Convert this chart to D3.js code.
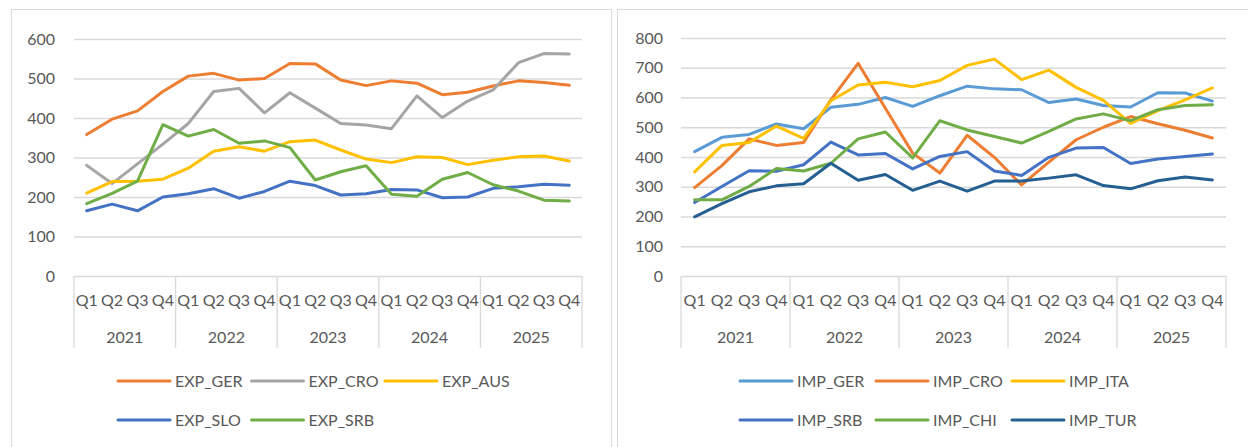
<!DOCTYPE html>
<html><head><meta charset="utf-8">
<script src="https://cdn.jsdelivr.net/npm/d3@7"></script>
<style>
body{margin:0;background:#fff;overflow:hidden}
text{font-family:Lato, "Open Sans", sans-serif;fill:#595959;}
</style>
</head><body>
<svg id="c" width="1248" height="447"></svg>
<script>
const years = ["2021","2022","2023","2024","2025"];
const quarters = ["Q1","Q2","Q3","Q4"];

const expNames = ["EXP_GER","EXP_CRO","EXP_AUS","EXP_SLO","EXP_SRB"];
const EXP_GER = [358,397,418,467,506,513,496,500,538,537,496,482,494,488,459,465,481,494,490,483];
const EXP_CRO = [280,234,284,334,386,467,475,413,464,425,386,382,373,456,401,443,471,540,563,562];
const EXP_AUS = [210,239,240,245,273,316,327,316,340,344,319,296,287,302,300,282,293,302,304,291];
const EXP_SLO = [165,182,165,200,208,221,197,214,240,229,205,208,219,218,198,200,222,226,232,230];
const EXP_SRB = [183,209,240,383,354,371,336,342,325,243,264,279,207,202,245,262,231,215,192,190];
const expColors = ["#ED7D31","#A5A5A5","#FFC000","#4472C4","#70AD47"];
const expTicks = [0,100,200,300,400,500,600];

const impNames = ["IMP_GER","IMP_CRO","IMP_ITA","IMP_SRB","IMP_CHI","IMP_TUR"];
const IMP_GER = [418,466,476,511,495,567,577,600,570,606,638,629,626,583,595,573,568,616,615,588];
const IMP_CRO = [297,371,461,439,449,592,715,564,413,346,473,399,306,383,458,500,536,512,490,464];
const IMP_ITA = [350,439,449,504,463,589,642,651,636,657,708,729,660,692,634,590,513,556,592,632];
const IMP_SRB = [247,301,354,352,374,450,407,412,360,402,418,353,338,399,430,432,378,393,402,410];
const IMP_CHI = [256,256,301,361,353,379,461,484,397,522,491,469,447,486,528,545,522,559,573,576];
const IMP_TUR = [199,243,283,303,310,379,322,341,288,319,285,319,319,329,340,304,293,320,333,323];
const impColors = ["#5B9BD5","#ED7D31","#FFC000","#4472C4","#70AD47","#255E91"];
const impTicks = [0,100,200,300,400,500,600,700,800];

const svg = d3.select("#c");
const keys = [];
years.forEach(y => quarters.forEach(q => keys.push(y + "|" + q)));

// panel frames
svg.append("rect").attr("x",11.5).attr("y",9.5).attr("width",600).attr("height",460)
  .attr("fill","#fff").attr("stroke","#D9D9D9");
svg.append("rect").attr("x",617.5).attr("y",9.5).attr("width",700).attr("height",460)
  .attr("fill","#fff").attr("stroke","#D9D9D9");

function panel(cfg) {
  const g = svg.append("g");
  const x = d3.scaleBand().domain(keys).range([cfg.x0, cfg.x1]).padding(0);
  const y = d3.scaleLinear().domain([0, d3.max(cfg.ticks)]).range([276, cfg.yTop]);

  // gridlines
  g.append("g").attr("transform", `translate(${cfg.x0},0)`)
    .call(d3.axisLeft(y).tickValues(cfg.ticks).tickSize(-(cfg.x1 - cfg.x0)).tickFormat(""))
    .call(s => s.select(".domain").remove())
    .call(s => s.selectAll("line").attr("stroke","#D9D9D9").attr("stroke-width",1.3));

  // y labels
  g.append("g").attr("transform", `translate(${cfg.x0},0)`)
    .call(d3.axisLeft(y).tickValues(cfg.ticks).tickSize(0).tickPadding(cfg.pad))
    .call(s => s.select(".domain").remove())
    .call(s => s.selectAll("text").attr("font-size",16).attr("fill","#595959")
        .style("font-family","Lato, sans-serif"));

  // category separators (year boundaries)
  const yb = years.map(yr => x(yr + "|Q1")).concat([cfg.x1]);
  g.selectAll(".sep").data(yb).join("line")
    .attr("x1", d => d).attr("x2", d => d).attr("y1", 276).attr("y2", 348)
    .attr("stroke","#D9D9D9").attr("stroke-width",1.3);

  // quarter labels
  g.selectAll(".ql").data(keys).join("text")
    .attr("x", d => x(d) + x.bandwidth()/2).attr("y", 306)
    .attr("text-anchor","middle").attr("font-size",16)
    .text(d => d.split("|")[1]);

  // year labels
  g.selectAll(".yl").data(years).join("text")
    .attr("x", yr => x(yr + "|Q1") + x.bandwidth()*2).attr("y", 343)
    .attr("text-anchor","middle").attr("font-size",16)
    .text(d => d);

  // lines
  const line = d3.line().x((d,i) => x(keys[i]) + x.bandwidth()/2).y(d => y(d));
  cfg.series.forEach((s, i) => {
    g.append("path").datum(s).attr("d", line)
      .attr("fill","none").attr("stroke", cfg.colors[i]).attr("stroke-width",3)
      .attr("stroke-linejoin","round").attr("stroke-linecap","round");
  });

  // legend
  cfg.names.forEach((n, i) => {
    const col = i % 3, row = Math.floor(i / 3);
    const lx = cfg.legX + col * cfg.legStep;
    const ly = row === 0 ? 381 : 420;
    g.append("line").attr("x1", lx).attr("x2", lx + 52).attr("y1", ly).attr("y2", ly)
      .attr("stroke", cfg.colors[i]).attr("stroke-width",3).attr("stroke-linecap","round");
    g.append("text").attr("x", lx + 57).attr("y", ly).attr("dy","0.36em")
      .attr("font-size",16).text(n);
  });
}

panel({x0:74, x1:582, yTop:39, ticks:expTicks, pad:19,
       series:[EXP_GER,EXP_CRO,EXP_AUS,EXP_SLO,EXP_SRB], colors:expColors, names:expNames,
       legX:118, legStep:133.5});
panel({x0:681, x1:1226, yTop:38, ticks:impTicks, pad:18,
       series:[IMP_GER,IMP_CRO,IMP_ITA,IMP_SRB,IMP_CHI,IMP_TUR], colors:impColors, names:impNames,
       legX:740, legStep:136});
</script>
</body></html>
